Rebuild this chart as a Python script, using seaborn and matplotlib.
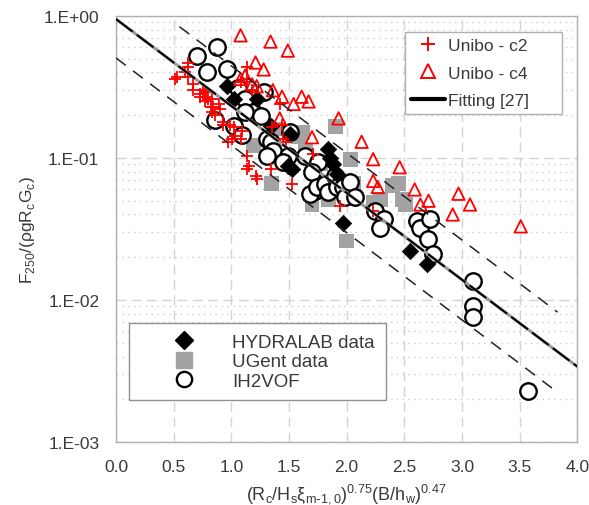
import matplotlib
matplotlib.use("Agg")
import matplotlib.pyplot as plt
import seaborn as sns
from matplotlib.lines import Line2D
from matplotlib.ticker import FixedLocator, FixedFormatter, LogLocator, NullFormatter

# ---------------- data ----------------
hydralab_x = [0.96, 1.02, 1.22, 1.34, 1.51, 1.49, 1.53, 1.84, 1.86, 1.88, 1.92, 1.97, 2.55, 2.70]
hydralab_y = [0.32, 0.26, 0.26, 0.168, 0.148, 0.088, 0.084, 0.116, 0.10, 0.091, 0.077, 0.035, 0.022, 0.018]

ugent_x = [1.19, 1.35, 1.40, 1.58, 1.62, 1.64, 1.70, 1.84, 1.96, 2.03, 2.06, 2.00, 2.23, 2.29, 2.40, 2.45, 2.48, 2.51, 1.77, 1.90]
ugent_y = [0.122, 0.066, 0.16, 0.141, 0.152, 0.112, 0.047, 0.051, 0.066, 0.098, 0.066, 0.026, 0.049, 0.051, 0.064, 0.066, 0.051, 0.047, 0.091, 0.166]

ih2vof_x = [0.70, 0.88, 0.96, 0.79, 1.06, 1.12, 1.19, 1.12, 1.26, 0.86, 1.02, 1.09, 1.28, 1.31, 1.34, 1.36,
            1.31, 1.51, 1.49, 1.45, 1.64, 1.75, 1.70, 1.73, 1.68, 1.74, 1.81, 1.84, 1.90, 1.92, 1.97, 1.99,
            2.03, 2.07, 2.25, 2.32, 2.29, 2.61, 2.64, 2.71, 2.72, 2.75, 3.10, 3.10, 3.10, 3.57]
ih2vof_y = [0.52, 0.605, 0.42, 0.40, 0.31, 0.26, 0.21, 0.21, 0.198, 0.185, 0.168, 0.145, 0.29, 0.136, 0.13, 0.112,
            0.103, 0.152, 0.103, 0.094, 0.103, 0.094, 0.080, 0.059, 0.056, 0.0625, 0.066, 0.058, 0.075, 0.0625, 0.0625, 0.053,
            0.068, 0.053, 0.042, 0.037, 0.032, 0.036, 0.032, 0.027, 0.037, 0.021, 0.0136, 0.0091, 0.0076, 0.0023]

c2_x = [0.53, 0.60, 0.62, 0.62, 0.51, 0.62, 0.67, 0.67, 0.73, 0.75, 0.77, 0.79, 0.80, 0.83, 0.73, 0.77, 0.82,
        0.84, 0.89, 0.90, 0.83, 0.86, 0.93, 0.93, 0.99, 1.02, 1.03, 1.09, 1.01, 0.97, 1.08, 1.14, 1.14, 1.08,
        1.18, 1.35, 1.44, 1.47, 1.14, 1.15, 1.14, 1.21, 1.22, 1.34, 1.53, 1.71, 1.45, 1.94, 2.23, 1.42]
c2_y = [0.37, 0.40, 0.47, 0.44, 0.36, 0.37, 0.33, 0.30, 0.28, 0.30, 0.29, 0.27, 0.26, 0.26, 0.27, 0.25, 0.23,
        0.23, 0.24, 0.22, 0.21, 0.20, 0.18, 0.17, 0.17, 0.165, 0.143, 0.155, 0.136, 0.13, 0.136, 0.44, 0.36, 0.34,
        0.30, 0.165, 0.17, 0.13, 0.103, 0.088, 0.084, 0.075, 0.071, 0.084, 0.066, 0.107, 0.136, 0.046, 0.042, 0.24]

c4_x = [1.08, 1.34, 1.49, 1.21, 1.28, 1.12, 1.08, 1.18, 1.22, 1.36, 1.44, 1.61, 1.67, 1.42, 1.54, 1.93, 1.70,
        2.13, 2.23, 2.46, 2.23, 2.27, 2.59, 2.64, 2.71, 2.97, 3.07, 2.92, 3.51]
c4_y = [0.73, 0.66, 0.57, 0.47, 0.42, 0.38, 0.36, 0.33, 0.32, 0.30, 0.27, 0.27, 0.25, 0.19, 0.24, 0.19, 0.14,
        0.13, 0.098, 0.086, 0.069, 0.0625, 0.060, 0.047, 0.050, 0.056, 0.047, 0.040, 0.033]

fit_x = [0.0, 4.0]
fit_y = [0.95, 0.0034]
upper_x = [0.55, 3.83]
upper_y = [0.84, 0.0082]
lower_x = [0.0, 3.78]
lower_y = [0.506, 0.0024]

x_ticks = [0.0, 0.5, 1.0, 1.5, 2.0, 2.5, 3.0, 3.5, 4.0]
x_labels = ["0.0", "0.5", "1.0", "1.5", "2.0", "2.5", "3.0", "3.5", "4.0"]
y_ticks = [1e-3, 1e-2, 1e-1, 1e0]
y_labels = ["1.E-03", "1.E-02", "1.E-01", "1.E+00"]

# ---------------- style ----------------
sns.set_theme(style="white")
plt.rcParams["font.family"] = ["Liberation Sans", "DejaVu Sans"]
TXT = "#3a3a3a"

fig = plt.figure(figsize=(5.89, 5.06), dpi=100)
ax = fig.add_axes([0.197, 0.1245, 0.783, 0.842])
ax.set_yscale("log")
ax.set_xlim(0, 4)
ax.set_ylim(1e-3, 1)

ax.set_xticks(x_ticks)
ax.set_xticklabels(x_labels)
ax.yaxis.set_major_locator(FixedLocator(y_ticks))
ax.yaxis.set_major_formatter(FixedFormatter(y_labels))
ax.yaxis.set_minor_locator(LogLocator(base=10, subs=range(2, 10)))
ax.yaxis.set_minor_formatter(NullFormatter())
ax.grid(True, which="major", axis="both", color="#d4d4d4", linestyle=(0, (7, 4)), linewidth=1.0)
ax.grid(True, which="minor", axis="y", color="#d4d4d4", linestyle=(0, (1.2, 3)), linewidth=1.0)
ax.set_axisbelow(True)
ax.tick_params(axis="both", which="both", length=0, labelsize=12.5, colors=TXT, pad=12)
for s in ax.spines.values():
    s.set_color("#b0b0b0")
    s.set_linewidth(1.0)

# markers
sns.scatterplot(x=ugent_x, y=ugent_y, ax=ax, marker="s", s=115, color="#a3a3a3",
                edgecolor="none", linewidth=0, zorder=3)
sns.scatterplot(x=ih2vof_x, y=ih2vof_y, ax=ax, marker="o", s=140, facecolor="white",
                edgecolor="black", linewidth=1.7, zorder=4)
sns.scatterplot(x=hydralab_x, y=hydralab_y, ax=ax, marker="D", s=70, color="black",
                edgecolor="black", linewidth=0.5, zorder=5)
sns.scatterplot(x=c2_x, y=c2_y, ax=ax, marker="+", s=80, color="red", linewidth=1.3, zorder=6)
sns.scatterplot(x=c4_x, y=c4_y, ax=ax, marker="^", s=80, facecolor="none",
                edgecolor="red", linewidth=1.3, zorder=6)

# lines
sns.lineplot(x=fit_x, y=fit_y, ax=ax, color="#9a9a9a", linewidth=2.2, zorder=7)
sns.lineplot(x=fit_x, y=fit_y, ax=ax, color="black", linewidth=1.5, zorder=8)
ax.lines[-1].set_dashes((10, 2.5))
sns.lineplot(x=upper_x, y=upper_y, ax=ax, color="#222222", linewidth=1.1, zorder=8)
ax.lines[-1].set_dashes((8, 6))
sns.lineplot(x=lower_x, y=lower_y, ax=ax, color="#222222", linewidth=1.1, zorder=8)
ax.lines[-1].set_dashes((8, 6))

ax.set_xlabel(r"(R$_\mathregular{c}$/H$_\mathregular{s}$ξ$_\mathregular{m\text{-}1,0}$)$^\mathregular{0.75}$(B/h$_\mathregular{w}$)$^\mathregular{0.47}$",
              fontsize=13, color=TXT, labelpad=5)
ax.set_ylabel(r"F$_\mathregular{250}$/(ρgR$_\mathregular{c}$G$_\mathregular{c}$)",
              fontsize=12.5, color=TXT, labelpad=5)

# legends
h_top = [
    Line2D([], [], marker="+", color="red", linestyle="none", markersize=10, markeredgewidth=1.4),
    Line2D([], [], marker="^", markerfacecolor="none", markeredgecolor="red", linestyle="none",
           markersize=10, markeredgewidth=1.4),
    Line2D([], [], color="black", linewidth=3),
]
leg1 = ax.legend(h_top, ["Unibo - c2", "Unibo - c4", "Fitting [27]"], loc="upper left",
                 bbox_to_anchor=(0.627, 0.779, 0.34, 0.183), mode="expand", borderaxespad=0,
                 frameon=True, fancybox=False, edgecolor="#b0b0b0", framealpha=1, fontsize=12.5,
                 labelspacing=0.72, handlelength=2.0, handletextpad=0.15, borderpad=0.32,
                 labelcolor=TXT)
leg1.get_frame().set_linewidth(1.0)
ax.add_artist(leg1)

h_bot = [
    Line2D([], [], marker="D", color="black", linestyle="none", markersize=9),
    Line2D([], [], marker="s", color="#a3a3a3", linestyle="none", markersize=11),
    Line2D([], [], marker="o", markerfacecolor="white", markeredgecolor="black", linestyle="none",
           markersize=11, markeredgewidth=1.7),
]
leg2 = ax.legend(h_bot, ["HYDRALAB data", "UGent data", "IH2VOF"], loc="lower left",
                 bbox_to_anchor=(0.028, 0.099, 0.558, 0.176), mode="expand", borderaxespad=0,
                 frameon=True, fancybox=False, edgecolor="#909090", framealpha=1, fontsize=13.5,
                 labelspacing=0.12, handlelength=4.75, handletextpad=0.2, borderpad=0.55,
                 labelcolor=TXT)
leg2.get_frame().set_linewidth(1.0)

fig.savefig("out.png", dpi=100)
